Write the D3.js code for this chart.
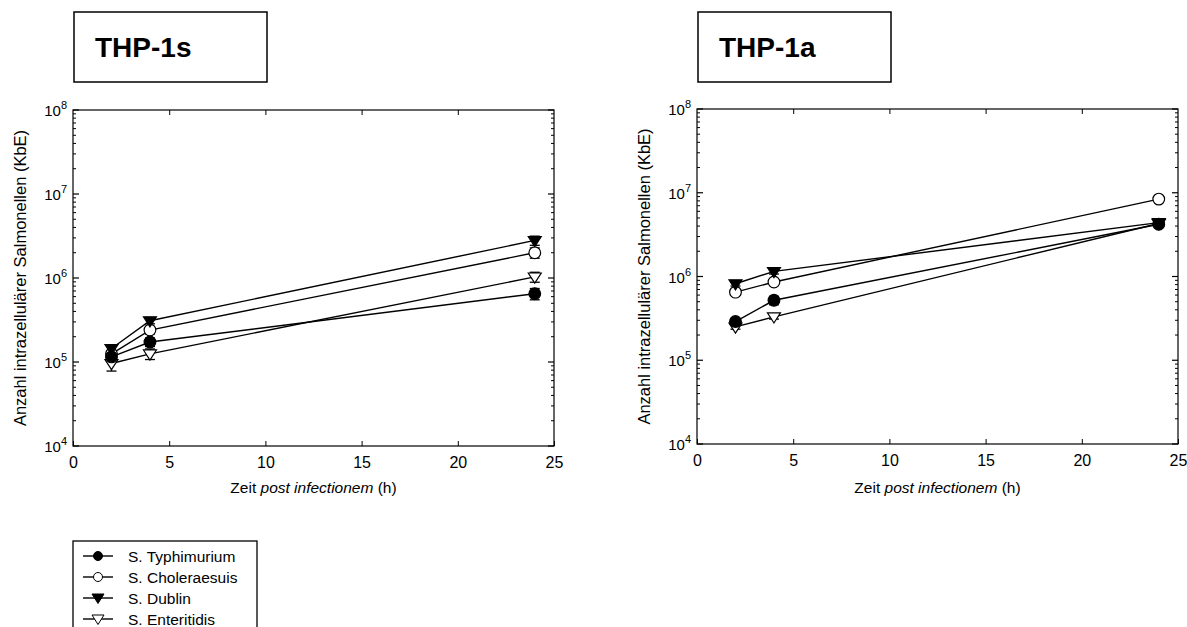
<!DOCTYPE html>
<html>
<head>
<meta charset="utf-8">
<script src="https://cdn.jsdelivr.net/npm/d3@7"></script>
<style>
  body { margin: 0; background: #fff; }
  svg { display: block; font-family: Arial, "Liberation Sans", sans-serif; }
</style>
</head>
<body>
<svg id="chart" width="1187" height="627"></svg>
<script>
// values (KbE per time point, mean and error)
var hours = [2, 4, 24];
var strains = ["S. Typhimurium", "S. Choleraesuis", "S. Dublin", "S. Enteritidis"];
var markers = ["circle-filled", "circle-open", "tri-filled", "tri-open"];

var thp1s_typhimurium = [1.15e5, 1.73e5, 6.5e5];
var thp1s_choleraesuis = [1.25e5, 2.4e5, 2.0e6];
var thp1s_dublin = [1.45e5, 3.1e5, 2.8e6];
var thp1s_enteritidis = [9.6e4, 1.25e5, 1.03e6];
var thp1s_typhimurium_err = [1.0e4, 2.0e4, 1.0e5];
var thp1s_choleraesuis_err = [1.0e4, 2.5e4, 2.8e5];
var thp1s_dublin_err = [1.2e4, 2.5e4, 3.5e5];
var thp1s_enteritidis_err = [1.8e4, 1.8e4, 1.4e5];

var thp1a_typhimurium = [2.9e5, 5.2e5, 4.2e6];
var thp1a_choleraesuis = [6.5e5, 8.6e5, 8.4e6];
var thp1a_dublin = [8.2e5, 1.15e6, 4.4e6];
var thp1a_enteritidis = [2.5e5, 3.3e5, 4.3e6];
var thp1a_typhimurium_err = [2.0e4, 6.0e4, 3.0e5];
var thp1a_choleraesuis_err = [3.0e4, 5.0e4, 3.0e5];
var thp1a_dublin_err = [5.0e4, 8.0e4, 3.0e5];
var thp1a_enteritidis_err = [1.5e4, 2.0e4, 3.0e5];

var xTicks = [0, 5, 10, 15, 20, 25];
var yDecades = [4, 5, 6, 7, 8];

var svg = d3.select("#chart");

function symbol(g, type, x, y, s) {
  if (type.indexOf("circle") === 0) {
    g.append("circle").attr("cx", x).attr("cy", y).attr("r", s * 0.9)
      .attr("fill", type === "circle-filled" ? "#000" : "#fff")
      .attr("stroke", "#000").attr("stroke-width", 1.2);
  } else {
    g.append("path")
      .attr("d", "M" + (x - s) + "," + (y - s * 0.6) + "L" + (x + s) + "," + (y - s * 0.6) + "L" + x + "," + (y + s * 0.95) + "Z")
      .attr("fill", type === "tri-filled" ? "#000" : "#fff")
      .attr("stroke", "#000").attr("stroke-width", 1.2);
  }
}

function drawPanel(opts) {
  var x = d3.scaleLinear().domain([0, 25]).range([opts.left, opts.right]);
  var y = d3.scaleLog().domain([1e4, 1e8]).range([opts.bottom, opts.top]);
  var g = svg.append("g");

  // title box
  g.append("rect").attr("x", opts.left + 1).attr("y", 12).attr("width", 193).attr("height", 70)
    .attr("fill", "#fff").attr("stroke", "#000").attr("stroke-width", 1.5);
  g.append("text").attr("x", opts.left + 22).attr("y", 57)
    .attr("font-size", 28).attr("font-weight", "bold").text(opts.title);

  // frame
  g.append("rect").attr("x", opts.left).attr("y", opts.top)
    .attr("width", opts.right - opts.left).attr("height", opts.bottom - opts.top)
    .attr("fill", "none").attr("stroke", "#000").attr("stroke-width", 1.2);

  // x ticks (inside, mirrored)
  var axB = d3.axisBottom(x).tickValues(xTicks).tickSizeInner(-5).tickSizeOuter(0).tickPadding(11);
  var gb = g.append("g").attr("transform", "translate(0," + opts.bottom + ")").call(axB);
  gb.select(".domain").remove();
  gb.selectAll("text").attr("font-size", 16).attr("font-family", "Arial, 'Liberation Sans', sans-serif");
  var axT = d3.axisTop(x).tickValues(xTicks.slice(1, -1)).tickSizeInner(-5).tickSizeOuter(0).tickFormat("");
  var gt = g.append("g").attr("transform", "translate(0," + opts.top + ")").call(axT);
  gt.select(".domain").remove();

  // y ticks: decades and minor ticks, on both sides
  var minor = [];
  yDecades.slice(0, -1).forEach(function (d) {
    for (var k = 2; k <= 9; k++) minor.push(k * Math.pow(10, d));
  });
  [[opts.left, 1], [opts.right, -1]].forEach(function (side) {
    var sx = side[0], dir = side[1];
    yDecades.forEach(function (d) {
      g.append("line").attr("x1", sx).attr("x2", sx + dir * 6)
        .attr("y1", y(Math.pow(10, d))).attr("y2", y(Math.pow(10, d)))
        .attr("stroke", "#000").attr("stroke-width", 1.2);
    });
    minor.forEach(function (v) {
      g.append("line").attr("x1", sx).attr("x2", sx + dir * 3)
        .attr("y1", y(v)).attr("y2", y(v))
        .attr("stroke", "#000").attr("stroke-width", 1);
    });
  });
  yDecades.forEach(function (d) {
    var t = g.append("text").attr("x", opts.left - 6).attr("y", y(Math.pow(10, d)) + 6)
      .attr("text-anchor", "end").attr("font-size", 15);
    t.append("tspan").text("10");
    t.append("tspan").attr("font-size", 11).attr("dy", -7).text(d);
  });

  // axis titles
  var xl = g.append("text").attr("x", (opts.left + opts.right) / 2).attr("y", 493)
    .attr("text-anchor", "middle").attr("font-size", 15.5);
  xl.append("tspan").text("Zeit ");
  xl.append("tspan").attr("font-style", "italic").text("post infectionem");
  xl.append("tspan").text(" (h)");
  g.append("text")
    .attr("transform", "translate(" + (opts.left - 47) + "," + ((opts.top + opts.bottom) / 2) + ") rotate(-90)")
    .attr("text-anchor", "middle").attr("font-size", 16.5)
    .text("Anzahl intrazellulärer Salmonellen (KbE)");

  var line = d3.line().x(function (d) { return x(d[0]); }).y(function (d) { return y(d[1]); });

  opts.series.forEach(function (s) {
    var pts = hours.map(function (h, i) { return [h, s.values[i], s.err[i]]; });
    g.append("path").datum(pts).attr("d", line)
      .attr("fill", "none").attr("stroke", "#000").attr("stroke-width", 1.4);
  });
  opts.series.forEach(function (s) {
    hours.forEach(function (h, i) {
      var cx = x(h), lo = y(s.values[i] - s.err[i]), hi = y(s.values[i] + s.err[i]);
      g.append("line").attr("x1", cx).attr("x2", cx).attr("y1", lo).attr("y2", hi)
        .attr("stroke", "#000").attr("stroke-width", 1.3);
      [lo, hi].forEach(function (yy) {
        g.append("line").attr("x1", cx - 5).attr("x2", cx + 5).attr("y1", yy).attr("y2", yy)
          .attr("stroke", "#000").attr("stroke-width", 1.3);
      });
    });
  });
  opts.series.forEach(function (s) {
    hours.forEach(function (h, i) {
      symbol(g, s.marker, x(h), y(s.values[i]), 6.5);
    });
  });
}

drawPanel({
  title: "THP-1s", left: 73, right: 554, top: 110, bottom: 446,
  series: [
    { values: thp1s_enteritidis, err: thp1s_enteritidis_err, marker: markers[3] },
    { values: thp1s_choleraesuis, err: thp1s_choleraesuis_err, marker: markers[1] },
    { values: thp1s_typhimurium, err: thp1s_typhimurium_err, marker: markers[0] },
    { values: thp1s_dublin, err: thp1s_dublin_err, marker: markers[2] }
  ]
});
drawPanel({
  title: "THP-1a", left: 697, right: 1178, top: 109, bottom: 444,
  series: [
    { values: thp1a_enteritidis, err: thp1a_enteritidis_err, marker: markers[3] },
    { values: thp1a_choleraesuis, err: thp1a_choleraesuis_err, marker: markers[1] },
    { values: thp1a_typhimurium, err: thp1a_typhimurium_err, marker: markers[0] },
    { values: thp1a_dublin, err: thp1a_dublin_err, marker: markers[2] }
  ]
});

// legend
var lg = svg.append("g");
lg.append("rect").attr("x", 73).attr("y", 541).attr("width", 184).attr("height", 100)
  .attr("fill", "#fff").attr("stroke", "#000").attr("stroke-width", 1.3);
strains.forEach(function (name, i) {
  var yy = 556 + i * 21;
  lg.append("line").attr("x1", 83).attr("x2", 113).attr("y1", yy).attr("y2", yy)
    .attr("stroke", "#000").attr("stroke-width", 1.4);
  var g = lg.append("g");
  if (markers[i].indexOf("circle") === 0) {
    g.append("circle").attr("cx", 98).attr("cy", yy).attr("r", 4.5)
      .attr("fill", markers[i] === "circle-filled" ? "#000" : "#fff").attr("stroke", "#000");
  } else {
    g.append("path").attr("d", "M92," + (yy - 4) + "L104," + (yy - 4) + "L98," + (yy + 5.5) + "Z")
      .attr("fill", markers[i] === "tri-filled" ? "#000" : "#fff").attr("stroke", "#000");
  }
  lg.append("text").attr("x", 128).attr("y", yy + 5.5).attr("font-size", 15.5).text(name);
});
</script>
</body>
</html>
